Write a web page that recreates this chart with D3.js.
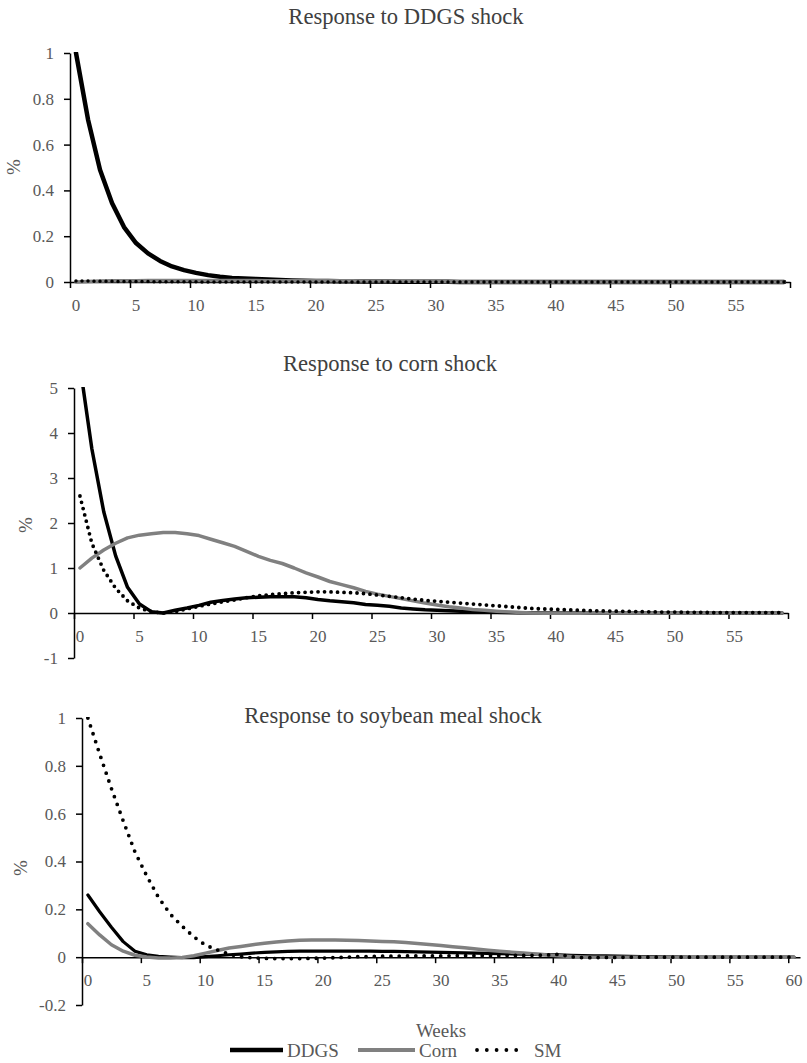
<!DOCTYPE html>
<html>
<head>
<meta charset="utf-8">
<script src="https://cdn.jsdelivr.net/npm/d3@7"></script>
<style>
  body { margin: 0; background: #fff; }
  text { font-family: "Liberation Serif", "Times New Roman", serif; }
</style>
</head>
<body>
<div id="chart"></div>
<script>
// categories (weeks after the shock)
const weeks60 = d3.range(60);
const weeks61 = d3.range(61);
const seriesNames = ["DDGS", "Corn", "SM"];

// Response to DDGS shock
const ddgsShockDDGS = [1, 0.71, 0.49, 0.345, 0.24, 0.17, 0.125, 0.092, 0.068, 0.052,
    0.04, 0.03, 0.023, 0.018, 0.015, 0.013, 0.011, 0.009, 0.007, 0.005,
    0.004, 0.004, 0.003, 0.003, 0.002, 0.002, 0.002, 0.001, 0.001, 0.001,
    0.001, 0.001, 0, 0, 0, 0, 0, 0, 0, 0,
    0, 0, 0, 0, 0, 0, 0, 0, 0, 0,
    0, 0, 0, 0, 0, 0, 0, 0, 0, 0];
const ddgsShockCorn = [0, 0.002, 0.004, 0.005, 0.006, 0.006, 0.007, 0.007, 0.007, 0.007,
    0.007, 0.007, 0.007, 0.007, 0.007, 0.007, 0.006, 0.006, 0.006, 0.006,
    0.005, 0.005, 0.005, 0.005, 0.004, 0.004, 0.004, 0.004, 0.003, 0.003,
    0.002, 0.001, 0.001, 0, 0, 0, 0, 0, 0, 0,
    0, 0, 0, 0, 0, 0, 0, 0, 0, 0,
    0, 0, 0, 0, 0, 0, 0, 0, 0, 0];
const ddgsShockSM = [0.004, 0.004, 0.003, 0.003, 0.002, 0.002, 0.002, 0.001, 0.001, 0.001,
    0.001, 0, 0, 0, 0, 0, 0, 0, 0, 0,
    0, 0, 0, 0, 0, 0, 0, 0, 0, 0,
    0, 0, 0, 0, 0, 0, 0, 0, 0, 0,
    0, 0, 0, 0, 0, 0, 0, 0, 0, 0,
    0, 0, 0, 0, 0, 0, 0, 0, 0, 0];

// Response to corn shock
const cornShockDDGS = [5.5, 3.65, 2.25, 1.27, 0.57, 0.2, 0.03, 0, 0.06, 0.11,
    0.17, 0.24, 0.28, 0.31, 0.34, 0.35, 0.36, 0.36, 0.36, 0.34,
    0.3, 0.27, 0.25, 0.23, 0.19, 0.17, 0.15, 0.11, 0.09, 0.07,
    0.06, 0.05, 0.04, 0.03, 0.02, 0.015, 0.01, 0.005, 0.003, 0.002,
    0.001, 0, 0, 0, 0, 0, 0, 0, 0, 0,
    0, 0, 0, 0, 0, 0, 0, 0, 0, 0];
const cornShockCorn = [1.0, 1.22, 1.4, 1.55, 1.67, 1.73, 1.76, 1.79, 1.79, 1.76,
    1.72, 1.64, 1.56, 1.48, 1.37, 1.26, 1.17, 1.1, 1.0, 0.89,
    0.8, 0.7, 0.63, 0.56, 0.48, 0.42, 0.37, 0.32, 0.27, 0.22,
    0.18, 0.14, 0.11, 0.08, 0.06, 0.04, 0.025, 0.01, 0, -0.005,
    -0.005, -0.004, -0.003, -0.002, -0.001, 0, 0, 0, 0, 0,
    0, 0, 0, 0, 0, 0, 0, 0, 0, 0];
const cornShockSM = [2.6, 1.55, 0.95, 0.55, 0.27, 0.11, 0.03, 0, 0.03, 0.09,
    0.15, 0.2, 0.25, 0.29, 0.34, 0.38, 0.41, 0.43, 0.45, 0.46,
    0.47, 0.47, 0.46, 0.45, 0.43, 0.4, 0.37, 0.34, 0.31, 0.28,
    0.26, 0.24, 0.22, 0.2, 0.18, 0.16, 0.14, 0.12, 0.1, 0.09,
    0.08, 0.07, 0.06, 0.05, 0.045, 0.04, 0.035, 0.03, 0.025, 0.02,
    0.02, 0.015, 0.015, 0.01, 0.01, 0.01, 0.01, 0.01, 0.01, 0.01];

// Response to soybean meal shock
const smShockDDGS = [0.26, 0.19, 0.125, 0.065, 0.025, 0.01, 0.003, 0, -0.002, -0.002,
    0.002, 0.006, 0.01, 0.013, 0.017, 0.02, 0.022, 0.024, 0.025, 0.025,
    0.025, 0.025, 0.025, 0.025, 0.025, 0.024, 0.024, 0.023, 0.022, 0.021,
    0.02, 0.019, 0.018, 0.017, 0.016, 0.015, 0.014, 0.013, 0.012, 0.011,
    0.01, 0.008, 0.007, 0.006, 0.005, 0.004, 0.003, 0.002, 0.002, 0.001,
    0.001, 0, 0, 0, 0, 0, 0, 0, 0, 0, 0];
const smShockCorn = [0.14, 0.093, 0.052, 0.025, 0.008, 0.001, -0.003, -0.004, -0.001, 0.006,
    0.017, 0.028, 0.038, 0.045, 0.052, 0.058, 0.063, 0.068, 0.071, 0.072,
    0.072, 0.072, 0.071, 0.07, 0.068, 0.066, 0.064, 0.061, 0.057, 0.053,
    0.049, 0.044, 0.039, 0.034, 0.029, 0.025, 0.021, 0.017, 0.013, 0.009,
    0.006, 0.003, 0.001, 0, 0, 0, 0, 0, 0, 0,
    0, 0, 0, 0, 0, 0, 0, 0, 0, 0, 0];
const smShockSM = [1.0, 0.85, 0.705, 0.57, 0.44, 0.34, 0.25, 0.18, 0.13, 0.085,
    0.05, 0.03, 0.012, 0.002, -0.003, -0.005, -0.006, -0.006, -0.006, -0.005,
    -0.004, -0.002, 0, 0.002, 0.003, 0.004, 0.004, 0.005, 0.005, 0.005,
    0.005, 0.006, 0.006, 0.006, 0.006, 0.006, 0.007, 0.007, 0.008, 0.009,
    0.012, 0.002, -0.002, -0.002, -0.001, -0.001, 0, 0, 0, 0,
    0, 0, 0, 0, 0, 0, 0, 0, 0, 0, 0];

// tick labels
const xLabels60 = [0, 5, 10, 15, 20, 25, 30, 35, 40, 45, 50, 55];
const xLabels61 = [0, 5, 10, 15, 20, 25, 30, 35, 40, 45, 50, 55, 60];
const yTicksDDGS = [0, 0.2, 0.4, 0.6, 0.8, 1];
const yTicksCorn = [-1, 0, 1, 2, 3, 4, 5];
const yTicksSM = [-0.2, 0, 0.2, 0.4, 0.6, 0.8, 1];

const titles = ["Response to DDGS shock", "Response to corn shock", "Response to soybean meal shock"];

// layout of the three panels
const panels = [
    { title: titles[0], weeks: weeks60, labels: xLabels60, yTicks: yTicksDDGS, yDomain: [0, 1],
      series: [ddgsShockDDGS, ddgsShockCorn, ddgsShockSM],
      x0: 70, x1: 790, yTop: 53, yBot: 282, titleX: 406, titleY: 24, pctX: 20, pctY: 167,
      widths: [4.5, 3.5, 3.5], dots: "0 6" },
    { title: titles[1], weeks: weeks60, labels: xLabels60, yTicks: yTicksCorn, yDomain: [-1, 5],
      series: [cornShockDDGS, cornShockCorn, cornShockSM],
      x0: 74, x1: 788, yTop: 388, yBot: 658, titleX: 390, titleY: 371, pctX: 32, pctY: 525,
      widths: [3.5, 3.5, 3.8], dots: "0 6.5" },
    { title: titles[2], weeks: weeks61, labels: xLabels61, yTicks: yTicksSM, yDomain: [-0.2, 1],
      series: [smShockDDGS, smShockCorn, smShockSM],
      x0: 82, x1: 800, yTop: 718, yBot: 1005, titleX: 393, titleY: 723, pctX: 27, pctY: 868,
      widths: [3.2, 3.5, 3.8], dots: "0 8.3" }
];

const colors = ["#000000", "#808080", "#000000"];
const labelColor = "#595959";

const svg = d3.select("#chart").append("svg")
    .attr("width", 807)
    .attr("height", 1063);

panels.forEach((p, pi) => {
    const n = p.weeks.length;
    const x = d3.scaleLinear().domain([0, n]).range([p.x0, p.x1]);
    const y = d3.scaleLinear().domain(p.yDomain).range([p.yBot, p.yTop]);
    const g = svg.append("g");

    svg.append("defs").append("clipPath")
        .attr("id", "clip" + pi)
        .append("rect")
        .attr("x", p.x0 - 5)
        .attr("y", p.yTop - 1)
        .attr("width", p.x1 - p.x0 + 10)
        .attr("height", p.yBot - p.yTop + 10);

    // y axis
    const yAxis = g.append("g")
        .attr("transform", `translate(${p.x0},0)`)
        .call(d3.axisLeft(y).tickValues(p.yTicks).tickSize(6).tickSizeOuter(0)
            .tickPadding(10).tickFormat(d => String(d)));
    yAxis.select(".domain").attr("stroke", "#000").attr("stroke-width", 1.5);
    yAxis.selectAll(".tick line").attr("stroke", "#000").attr("stroke-width", 1.5);
    yAxis.selectAll(".tick text")
        .attr("fill", labelColor)
        .style("font-size", "17px")
        .style("font-family", "'Liberation Serif', serif");

    // x axis at zero, ticks between categories
    const xAxis = g.append("g")
        .attr("transform", `translate(0,${y(0)})`)
        .call(d3.axisBottom(x).tickValues(d3.range(0, 61, 5)).tickSize(6).tickSizeOuter(0)
            .tickFormat(""));
    xAxis.select(".domain").attr("stroke", "#000").attr("stroke-width", 1.5);
    xAxis.selectAll(".tick line").attr("stroke", "#000").attr("stroke-width", 1.5);

    // category labels centred on each week
    g.append("g").selectAll("text")
        .data(p.labels)
        .enter().append("text")
        .attr("x", d => x(d + 0.5))
        .attr("y", y(0) + 29)
        .attr("text-anchor", "middle")
        .attr("fill", labelColor)
        .style("font-size", "17px")
        .text(d => d);

    // series
    const line = d3.line()
        .x((d, i) => x(p.weeks[i] + 0.5))
        .y(d => y(d));

    const lines = g.append("g").attr("clip-path", `url(#clip${pi})`);
    p.series.forEach((s, si) => {
        lines.append("path")
            .datum(s)
            .attr("d", line)
            .attr("fill", "none")
            .attr("stroke", colors[si])
            .attr("stroke-width", p.widths[si])
            .attr("stroke-linejoin", "round")
            .attr("stroke-linecap", "round")
            .attr("stroke-dasharray", si === 2 ? p.dots : null);
    });

    // title and y label
    svg.append("text")
        .attr("x", p.titleX)
        .attr("y", p.titleY)
        .attr("text-anchor", "middle")
        .attr("fill", "#404040")
        .style("font-size", "22.6px")
        .text(p.title);

    svg.append("text")
        .attr("transform", `translate(${p.pctX},${p.pctY}) rotate(-90)`)
        .attr("text-anchor", "middle")
        .attr("fill", labelColor)
        .style("font-size", "19px")
        .text("%");
});

// x axis title and legend
svg.append("text")
    .attr("x", 441)
    .attr("y", 1037)
    .attr("text-anchor", "middle")
    .attr("fill", labelColor)
    .style("font-size", "19px")
    .text("Weeks");

const legendItems = [
    { name: seriesNames[0], x0: 230, x1: 283, w: 4.5, dash: null },
    { name: seriesNames[1], x0: 358, x1: 415, w: 4, dash: null },
    { name: seriesNames[2], x0: 477, x1: 526, w: 3.8, dash: "0 9.8" }
];
const legend = svg.append("g");
legendItems.forEach((d, i) => {
    legend.append("line")
        .attr("x1", d.x0).attr("x2", d.x1)
        .attr("y1", 1050).attr("y2", 1050)
        .attr("stroke", colors[i])
        .attr("stroke-width", d.w)
        .attr("stroke-linecap", d.dash ? "round" : "butt")
        .attr("stroke-dasharray", d.dash);
    legend.append("text")
        .attr("x", d.x1 + (i === 2 ? 8 : 4))
        .attr("y", 1057)
        .attr("fill", labelColor)
        .style("font-size", "19px")
        .text(d.name);
});
</script>
</body>
</html>
